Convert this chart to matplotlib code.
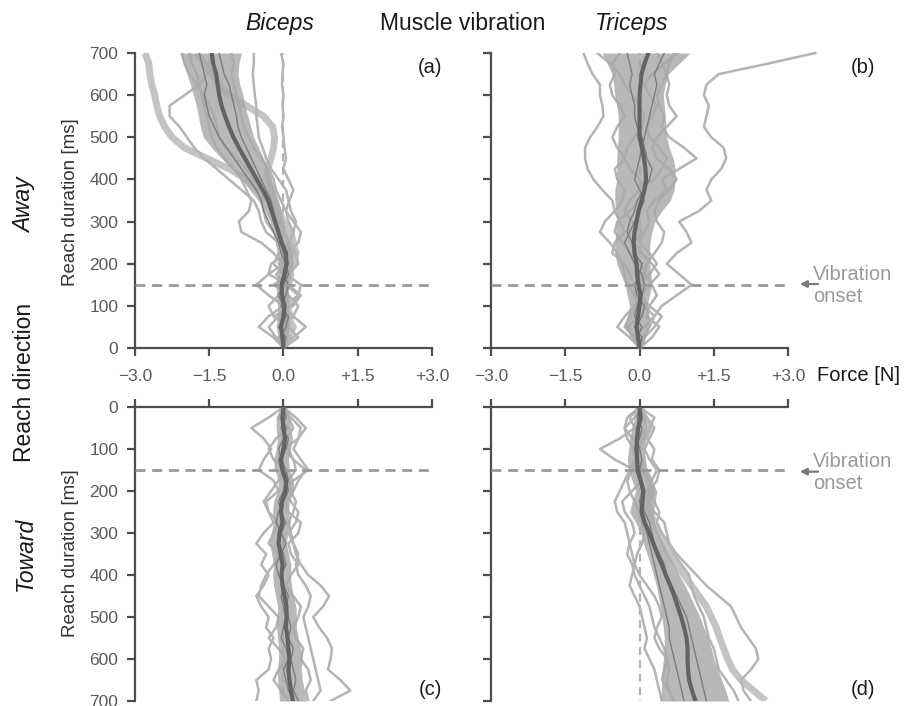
import matplotlib
matplotlib.use("Agg")
import matplotlib.pyplot as plt
import numpy as np

plt.rcParams['font.family'] = ['Liberation Sans', 'DejaVu Sans']

# reach time samples [ms], shared by all traces
time_ms = [0, 25, 50, 75, 100, 125, 150, 175, 200, 225, 250, 275, 300, 325, 350,
           375, 400, 425, 450, 475, 500, 525, 550, 575, 600, 625, 650, 675, 700]

# ---- (a) away / biceps ----
a_mean = [0.0, -0.02, -0.05, 0.0, 0.02, -0.03, -0.04, 0.02, 0.06, 0.05, -0.04, -0.1, -0.17, -0.24, -0.31,
          -0.42, -0.54, -0.66, -0.78, -0.9, -1.01, -1.1, -1.18, -1.25, -1.3, -1.33, -1.36, -1.42, -1.45]
a_lo = [-0.05, -0.1, -0.15, -0.12, -0.12, -0.14, -0.15, -0.12, -0.1, -0.12, -0.17, -0.22, -0.27, -0.38, -0.51,
        -0.68, -0.85, -1.05, -1.25, -1.45, -1.62, -1.68, -1.72, -1.76, -1.82, -1.88, -1.95, -2.02, -2.1]
a_hi = [0.05, 0.08, 0.12, 0.12, 0.1, 0.1, 0.1, 0.15, 0.2, 0.18, 0.12, 0.05, 0.0, -0.05, -0.1,
        -0.17, -0.25, -0.32, -0.4, -0.5, -0.6, -0.66, -0.72, -0.78, -0.82, -0.88, -0.92, -0.9, -0.85]
a_thick1 = [0.0, 0.1, 0.2, 0.05, 0.1, 0.05, 0.0, 0.1, 0.2, 0.25, 0.2, 0.05, -0.05, -0.15, -0.3,
            -0.5, -0.74, -1.1, -1.55, -2.0, -2.25, -2.4, -2.5, -2.56, -2.6, -2.66, -2.7, -2.72, -2.8]
a_thick2 = [0.02, -0.05, 0.1, 0.15, 0.05, -0.05, 0.1, 0.15, 0.05, 0.1, 0.2, 0.15, 0.0, -0.1, -0.2,
            -0.25, -0.3, -0.32, -0.25, -0.2, -0.18, -0.22, -0.4, -0.75, -1.1, -1.3, -1.45, -1.6, -1.75]
a_light1 = [0.0, 0.15, -0.1, 0.2, 0.3, 0.1, -0.2, 0.1, 0.3, 0.25, 0.15, 0.2, 0.25, 0.15, 0.1,
            0.05, -0.1, -0.25, -0.35, -0.42, -0.5, -0.52, -0.55, -0.55, -0.58, -0.6, -0.62, -0.6, -0.6]
a_light2 = [0.0, -0.1, 0.1, -0.2, -0.3, -0.1, 0.15, 0.0, -0.2, -0.1, 0.1, 0.2, 0.1, 0.05, 0.12,
            0.2, 0.1, 0.0, 0.05, 0.02, 0.0, -0.03, 0.0, -0.02, 0.0, -0.03, -0.02, 0.0, -0.05]
a_light3 = [0.0, -0.2, -0.5, -0.3, 0.0, -0.3, -0.55, -0.3, 0.0, -0.2, -0.45, -0.85, -0.9, -0.7, -0.65,
            -0.75, -0.85, -1.0, -1.2, -1.35, -1.45, -1.5, -1.55, -1.6, -1.65, -1.7, -1.75, -1.85, -1.9]
a_light4 = [0.0, 0.3, 0.1, -0.2, 0.2, 0.35, 0.1, -0.3, -0.25, 0.1, -0.1, -0.35, -0.45, -0.5, -0.6,
            -0.85, -1.1, -1.35, -1.6, -1.8, -1.95, -2.1, -2.3, -2.3, -2.0, -1.7, -1.55, -1.5, -1.45]
a_light5 = [0.0, 0.2, 0.45, 0.2, 0.0, 0.3, 0.35, 0.05, -0.1, 0.05, 0.3, 0.35, 0.2, 0.05, -0.05,
            -0.15, -0.2, -0.3, -0.45, -0.6, -0.7, -0.8, -0.85, -0.9, -0.95, -1.0, -1.05, -1.0, -1.05]
a_light6 = [0.0, -0.15, -0.3, -0.1, 0.15, 0.3, 0.05, -0.15, 0.05, 0.2, 0.0, -0.2, -0.35, -0.4, -0.45,
            -0.5, -0.6, -0.75, -0.95, -1.15, -1.3, -1.35, -1.4, -1.5, -1.6, -1.75, -1.9, -2.0, -2.05]
a_dark1 = [0.0, 0.05, -0.1, 0.05, 0.0, -0.1, 0.0, 0.1, 0.05, -0.05, -0.1, -0.2, -0.3, -0.4, -0.45,
           -0.55, -0.7, -0.85, -1.0, -1.15, -1.3, -1.4, -1.5, -1.55, -1.6, -1.55, -1.6, -1.65, -1.7]
a_dark2 = [0.0, -0.05, 0.05, 0.1, -0.05, 0.05, 0.1, 0.0, 0.1, 0.0, -0.05, -0.1, -0.15, -0.2, -0.25,
           -0.35, -0.45, -0.55, -0.65, -0.75, -0.85, -0.92, -0.95, -1.0, -1.05, -1.1, -1.2, -1.25, -1.3]

# ---- (b) away / triceps ----
b_mean = [0.0, -0.03, -0.06, -0.03, 0.0, 0.02, -0.02, -0.05, -0.06, -0.1, -0.12, -0.1, -0.06, -0.02, 0.04,
          0.1, 0.13, 0.12, 0.09, 0.05, 0.0, 0.0, 0.0, 0.0, 0.0, 0.02, 0.04, 0.1, 0.18]
b_lo = [-0.05, -0.15, -0.3, -0.25, -0.2, -0.25, -0.29, -0.38, -0.46, -0.5, -0.5, -0.48, -0.46, -0.48, -0.5,
        -0.5, -0.46, -0.46, -0.46, -0.45, -0.43, -0.43, -0.43, -0.46, -0.5, -0.52, -0.56, -0.65, -0.76]
b_hi = [0.05, 0.12, 0.2, 0.2, 0.15, 0.2, 0.25, 0.23, 0.21, 0.2, 0.21, 0.25, 0.31, 0.45, 0.62,
        0.7, 0.72, 0.72, 0.68, 0.6, 0.55, 0.53, 0.52, 0.5, 0.48, 0.52, 0.58, 0.8, 1.02]
b_spike = [0.0, 0.05, 0.2, 0.3, 0.45, 0.75, 1.05, 0.8, 0.55, 0.75, 1.05, 0.95, 0.8, 1.2, 1.45,
           1.35, 1.45, 1.65, 1.75, 1.7, 1.45, 1.3, 1.35, 1.4, 1.3, 1.35, 1.6, 2.6, 3.55]
b_light1 = [0.0, -0.1, -0.3, -0.2, 0.0, -0.1, -0.25, -0.3, -0.35, -0.45, -0.6, -0.8, -0.7, -0.5, -0.55,
            -0.75, -0.93, -1.05, -1.1, -1.1, -1.0, -0.85, -0.73, -0.75, -0.8, -0.8, -0.95, -1.05, -1.13]
b_light2 = [0.0, -0.1, 0.1, 0.3, 0.1, -0.1, 0.0, 0.2, 0.35, 0.2, 0.0, 0.1, 0.2, 0.15, 0.3,
            0.55, 0.45, 0.8, 1.15, 0.9, 0.6, 0.45, 0.5, 0.4, 0.35, 0.45, 0.55, 0.6, 0.7]
b_light3 = [0.0, -0.2, -0.45, -0.3, -0.1, 0.05, -0.1, -0.2, -0.3, -0.55, -0.5, -0.3, -0.4, -0.5, -0.35,
            -0.3, -0.45, -0.5, -0.3, -0.45, -0.55, -0.45, -0.3, -0.4, -0.55, -0.6, -0.5, -0.55, -0.4]
b_light4 = [0.0, 0.25, 0.4, 0.15, 0.2, 0.35, 0.25, 0.1, 0.15, 0.3, 0.45, 0.5, 0.35, 0.3, 0.4,
            0.6, 0.75, 0.6, 0.35, 0.25, 0.35, 0.55, 0.75, 0.6, 0.55, 0.6, 0.55, 0.45, 0.35]
b_light5 = [0.0, 0.1, 0.3, 0.45, 0.2, 0.0, -0.1, 0.1, 0.05, -0.2, -0.35, -0.5, -0.45, -0.2, 0.0,
            0.1, 0.0, -0.2, -0.3, -0.25, -0.1, 0.05, 0.1, 0.0, -0.15, -0.3, -0.4, -0.6, -0.85]
b_light6 = [0.0, -0.15, -0.25, 0.0, 0.15, 0.05, 0.2, 0.4, 0.25, 0.05, -0.1, 0.05, -0.15, -0.3, -0.2,
            0.0, 0.3, 0.45, 0.55, 0.4, 0.2, 0.15, 0.25, 0.35, 0.2, 0.1, 0.25, 0.5, 0.75]
b_dark1 = [0.0, 0.05, -0.1, 0.05, 0.1, -0.05, -0.1, 0.0, 0.05, -0.1, -0.15, -0.25, -0.2, -0.1, -0.05,
           0.1, 0.2, 0.25, 0.15, 0.1, 0.05, -0.05, -0.1, -0.1, -0.15, -0.2, -0.15, -0.2, -0.25]
b_dark2 = [0.0, -0.05, 0.05, -0.1, -0.05, 0.05, 0.1, 0.05, -0.1, -0.2, -0.3, -0.2, -0.1, 0.0, 0.1,
           0.0, -0.1, -0.05, 0.0, 0.05, 0.1, 0.15, 0.2, 0.25, 0.3, 0.35, 0.3, 0.4, 0.5]

# ---- (c) toward / biceps ----
c_mean = [0.0, -0.02, 0.0, 0.03, 0.0, -0.05, -0.02, 0.05, 0.04, -0.03, -0.05, -0.02, -0.08, -0.1, -0.06,
          -0.02, -0.04, -0.02, 0.02, 0.06, 0.06, 0.05, 0.08, 0.1, 0.12, 0.1, 0.12, 0.15, 0.19]
c_lo = [-0.05, -0.15, -0.15, -0.12, -0.15, -0.2, -0.18, -0.1, -0.12, -0.2, -0.22, -0.2, -0.25, -0.28, -0.24,
        -0.2, -0.22, -0.2, -0.16, -0.12, -0.12, -0.14, -0.12, -0.1, -0.1, -0.12, -0.12, -0.1, -0.08]
c_hi = [0.05, 0.1, 0.15, 0.18, 0.14, 0.1, 0.12, 0.2, 0.2, 0.12, 0.1, 0.14, 0.08, 0.06, 0.1,
        0.15, 0.14, 0.16, 0.2, 0.25, 0.26, 0.26, 0.3, 0.34, 0.38, 0.36, 0.38, 0.42, 0.46]
c_light1 = [0.0, 0.1, 0.2, 0.05, 0.1, 0.2, 0.25, 0.1, 0.15, 0.25, 0.2, 0.1, 0.15, 0.2, 0.25,
            0.35, 0.5, 0.75, 0.92, 0.8, 0.6, 0.72, 0.88, 0.98, 0.95, 0.9, 1.15, 1.35, 0.95]
c_light2 = [0.0, 0.25, 0.45, 0.3, 0.2, 0.35, 0.5, 0.2, 0.0, 0.15, 0.3, 0.25, 0.1, 0.2, 0.3,
            0.25, 0.3, 0.45, 0.55, 0.5, 0.4, 0.45, 0.5, 0.55, 0.6, 0.65, 0.7, 0.75, 0.6]
c_light3 = [0.0, -0.3, -0.65, -0.4, -0.25, -0.4, -0.5, -0.2, -0.1, -0.35, -0.3, -0.2, -0.4, -0.55, -0.35,
            -0.45, -0.3, -0.4, -0.55, -0.45, -0.3, -0.35, -0.2, -0.3, -0.25, -0.3, -0.55, -0.5, -0.55]
c_light4 = [0.0, -0.1, 0.1, -0.15, -0.3, -0.2, 0.0, -0.1, -0.25, -0.4, -0.3, -0.1, -0.2, -0.3, -0.1,
            -0.2, -0.35, -0.45, -0.5, -0.3, -0.1, -0.15, -0.3, -0.1, 0.05, -0.1, -0.2, -0.05, 0.1]
c_light5 = [0.0, 0.15, 0.35, 0.3, 0.0, 0.2, 0.45, 0.3, 0.2, 0.05, 0.1, 0.35, 0.3, 0.1, 0.15,
            0.3, 0.15, 0.05, 0.2, 0.35, 0.3, 0.2, 0.25, 0.4, 0.35, 0.5, 0.55, 0.45, 0.5]
c_dark1 = [0.0, -0.05, 0.05, 0.0, -0.1, -0.05, 0.05, 0.1, 0.0, -0.1, -0.05, 0.05, -0.05, -0.1, 0.0,
           0.05, -0.05, 0.0, 0.1, 0.05, 0.1, 0.15, 0.1, 0.2, 0.15, 0.2, 0.25, 0.2, 0.3]
c_dark2 = [0.0, 0.05, -0.05, 0.1, 0.05, -0.1, -0.05, 0.05, 0.1, 0.0, -0.1, -0.15, -0.05, 0.05, -0.05,
           -0.15, -0.1, 0.0, -0.05, 0.0, 0.05, 0.0, -0.05, 0.05, 0.1, 0.0, 0.05, 0.1, 0.2]

# ---- (d) toward / triceps ----
d_mean = [0.0, 0.02, -0.03, -0.05, -0.06, -0.05, -0.04, 0.02, 0.08, 0.06, 0.04, 0.1, 0.2, 0.28, 0.36,
          0.45, 0.53, 0.62, 0.7, 0.77, 0.84, 0.9, 0.95, 0.97, 0.97, 0.98, 1.0, 1.06, 1.13]
d_lo = [-0.03, -0.1, -0.15, -0.2, -0.22, -0.25, -0.22, -0.15, -0.08, -0.15, -0.2, -0.08, 0.02, 0.08, 0.15,
        0.22, 0.28, 0.34, 0.38, 0.42, 0.45, 0.48, 0.5, 0.5, 0.48, 0.46, 0.45, 0.44, 0.42]
d_hi = [0.03, 0.12, 0.15, 0.12, 0.1, 0.12, 0.15, 0.25, 0.35, 0.32, 0.28, 0.3, 0.38, 0.48, 0.58,
        0.7, 0.8, 0.92, 1.02, 1.12, 1.22, 1.3, 1.38, 1.45, 1.5, 1.58, 1.66, 1.74, 1.8]
d_thick = [0.0, 0.1, 0.2, 0.05, -0.1, 0.0, 0.1, 0.2, 0.25, 0.15, 0.2, 0.3, 0.4, 0.5, 0.6,
           0.75, 0.9, 1.05, 1.2, 1.35, 1.45, 1.55, 1.62, 1.7, 1.78, 1.88, 2.05, 2.3, 2.55]
d_light1 = [0.0, 0.15, 0.3, 0.2, 0.1, 0.2, 0.35, 0.25, 0.15, 0.3, 0.4, 0.35, 0.45, 0.6, 0.75,
            0.95, 1.15, 1.35, 1.6, 1.85, 1.95, 2.05, 2.2, 2.35, 2.4, 2.25, 2.05, 2.1, 2.25]
d_light2 = [0.0, -0.2, -0.1, -0.4, -0.8, -0.5, -0.1, 0.05, -0.15, -0.35, -0.3, -0.15, -0.1, -0.2, -0.25,
            -0.15, -0.1, 0.0, 0.1, 0.2, 0.25, 0.3, 0.4, 0.5, 0.55, 0.6, 0.55, 0.6, 0.7]
d_light3 = [0.0, -0.25, -0.3, -0.15, 0.05, -0.1, -0.2, -0.3, -0.4, -0.5, -0.45, -0.3, -0.25, -0.2, -0.15,
            -0.1, -0.15, -0.2, -0.1, 0.0, 0.05, 0.1, 0.15, 0.1, 0.2, 0.3, 0.35, 0.4, 0.45]
d_light4 = [0.0, 0.3, 0.2, 0.15, 0.3, 0.25, 0.4, 0.35, 0.2, 0.15, 0.3, 0.5, 0.55, 0.6, 0.7,
            0.85, 1.0, 1.05, 1.1, 1.2, 1.3, 1.35, 1.4, 1.5, 1.55, 1.6, 1.75, 1.9, 2.0]
d_light5 = [0.0, -0.1, -0.3, -0.25, -0.1, -0.05, -0.15, -0.25, -0.2, -0.1, 0.0, 0.05, 0.1, 0.05, -0.05,
            -0.1, 0.0, 0.15, 0.3, 0.4, 0.45, 0.35, 0.3, 0.4, 0.55, 0.5, 0.45, 0.6, 0.7]
d_dark1 = [0.0, 0.05, 0.0, -0.05, 0.0, 0.05, 0.0, 0.05, 0.1, 0.05, 0.1, 0.2, 0.25, 0.3, 0.4,
           0.5, 0.55, 0.65, 0.75, 0.85, 0.95, 1.0, 1.05, 1.1, 1.15, 1.2, 1.25, 1.3, 1.35]
d_dark2 = [0.0, -0.05, 0.05, 0.0, -0.1, -0.05, 0.0, 0.0, 0.05, 0.0, 0.05, 0.1, 0.15, 0.2, 0.25,
           0.3, 0.35, 0.4, 0.45, 0.5, 0.55, 0.6, 0.6, 0.65, 0.7, 0.75, 0.8, 0.85, 0.9]

force_ticks = [-3.0, -1.5, 0.0, 1.5, 3.0]
force_labels = ['\u22123.0', '\u22121.5', '0.0', '+1.5', '+3.0']
time_ticks = [0, 100, 200, 300, 400, 500, 600, 700]
onset_ms = 150

SPINE = '#4d4d4d'
TICKLAB = '#5a5a5a'
LIGHT = '#b4b4b4'
BAND = '#a9a9a9'
DARK = '#7c7c7c'
MEAN = '#636363'
DASH = (0, (3.6, 2.4))


def draw_panel(ax, light, thick, dark, mean, lo, hi, spike=None):
    t = np.array(time_ms)
    ax.plot([0, 0], [0, 700], color='#b3b3b3', lw=1.6, ls=DASH, zorder=1)
    for tr in thick:
        ax.plot(tr, t, color='#c4c4c4', lw=5, zorder=2, solid_capstyle='butt')
    for tr in light:
        ax.plot(tr, t, color=LIGHT, lw=1.8, zorder=2)
    if spike is not None:
        ax.plot(spike, t, color=LIGHT, lw=1.8, zorder=2, clip_on=False)
    ax.fill_betweenx(t, lo, hi, color=BAND, alpha=0.82, lw=0, zorder=3)
    for tr in dark:
        ax.plot(tr, t, color=DARK, lw=1.0, zorder=4)
    ax.plot(mean, t, color=MEAN, lw=3, zorder=5)
    ax.axhline(onset_ms, color='#9a9a9a', lw=2, ls=DASH, zorder=6, clip_on=False)
    ax.set_xlim(-3, 3)
    ax.set_xticks(force_ticks)
    ax.set_yticks(time_ticks)
    ax.tick_params(direction='out', length=6, width=1.6, color=SPINE,
                   labelcolor=TICKLAB, labelsize=12.5, pad=6)
    for s in ax.spines.values():
        s.set_color(SPINE)
        s.set_linewidth(1.6)


fig = plt.figure(figsize=(9.12, 7.06), dpi=100)
ax_a = fig.add_axes([0.1480, 0.5071, 0.3257, 0.4178])
ax_b = fig.add_axes([0.5384, 0.5071, 0.3257, 0.4178])
ax_c = fig.add_axes([0.1480, 0.00708, 0.3257, 0.4164])
ax_d = fig.add_axes([0.5384, 0.00708, 0.3257, 0.4164])

draw_panel(ax_a, [a_light1, a_light2, a_light3, a_light4, a_light5, a_light6], [a_thick1, a_thick2],
           [a_dark1, a_dark2], a_mean, a_lo, a_hi)
draw_panel(ax_b, [b_light1, b_light2, b_light3, b_light4, b_light5, b_light6], [],
           [b_dark1, b_dark2], b_mean, b_lo, b_hi, spike=b_spike)
draw_panel(ax_c, [c_light1, c_light2, c_light3, c_light4, c_light5], [],
           [c_dark1, c_dark2], c_mean, c_lo, c_hi)
draw_panel(ax_d, [d_light1, d_light2, d_light3, d_light4, d_light5], [d_thick],
           [d_dark1, d_dark2], d_mean, d_lo, d_hi)

for ax in (ax_a, ax_b):
    ax.set_ylim(0, 700)
    ax.spines['top'].set_visible(False)
    ax.spines['right'].set_visible(False)
    ax.set_xticklabels(force_labels)
    ax.tick_params(axis='x', pad=9)
for ax in (ax_c, ax_d):
    ax.set_ylim(700, 0)
    ax.spines['bottom'].set_visible(False)
    ax.spines['right'].set_visible(False)
    ax.xaxis.tick_top()
    ax.tick_params(axis='x', labeltop=False)
for ax in (ax_b, ax_d):
    ax.tick_params(axis='y', labelleft=False)

# header and side labels
fig.text(0.307, 0.967, 'Biceps', style='italic', fontsize=16.5, ha='center', va='center', color='#1a1a1a')
fig.text(0.5077, 0.967, 'Muscle vibration', fontsize=16.5, ha='center', va='center', color='#1a1a1a')
fig.text(0.693, 0.967, 'Triceps', style='italic', fontsize=16.5, ha='center', va='center', color='#1a1a1a')
fig.text(0.0274, 0.7096, 'Away', style='italic', fontsize=16.5, rotation=90, ha='center', va='center', color='#1a1a1a')
fig.text(0.0274, 0.459, 'Reach direction', fontsize=16.5, rotation=90, ha='center', va='center', color='#1a1a1a')
fig.text(0.0274, 0.2153, 'Toward', style='italic', fontsize=16.5, rotation=90, ha='center', va='center', color='#1a1a1a')
fig.text(0.0768, 0.714, 'Reach duration [ms]', fontsize=13.5, rotation=90, ha='center', va='center', color='#333333')
fig.text(0.0768, 0.2167, 'Reach duration [ms]', fontsize=13.5, rotation=90, ha='center', va='center', color='#333333')
fig.text(0.8958, 0.4688, 'Force [N]', fontsize=14.5, ha='left', va='center', color='#1a1a1a')

for lab, x, y in [('(a)', 0.4715, 0.9037), ('(b)', 0.9463, 0.9037),
                  ('(c)', 0.4715, 0.0227), ('(d)', 0.9463, 0.0227)]:
    fig.text(x, y, lab, fontsize=14.5, ha='center', va='center', color='#1a1a1a')

for y in (0.5963, 0.3314):
    fig.text(0.8914, y, 'Vibration\nonset', fontsize=14.5, ha='left', va='center',
             color='#9a9a9a', linespacing=1.2)
for y in (0.5977, 0.3319):
    fig.add_artist(matplotlib.patches.FancyArrowPatch(
        (0.900, y), (0.874, y), transform=fig.transFigure, arrowstyle='-|>',
        mutation_scale=10, color='#7a7a7a', lw=1.6))

fig.savefig('out.png', dpi=100)
